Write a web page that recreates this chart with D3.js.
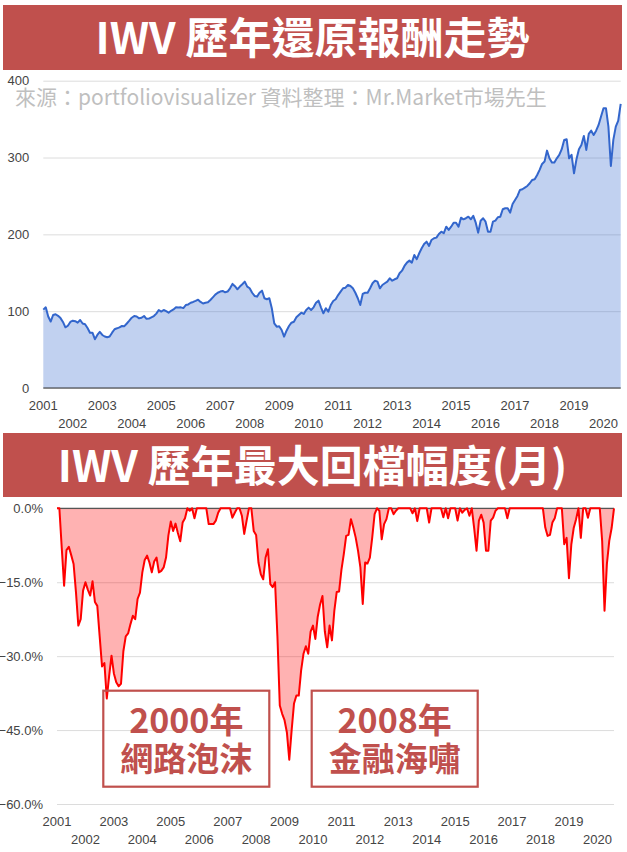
<!DOCTYPE html>
<html><head><meta charset="utf-8">
<script src="https://cdn.jsdelivr.net/npm/d3@7"></script>
<style>body{margin:0;background:#fff}svg{display:block}</style>
</head><body>
<svg id="c" width="627" height="852"></svg>
<script>
// ---- data (monthly, index 0 = start of 2001) ----
const yearLabels = [2001,2002,2003,2004,2005,2006,2007,2008,2009,2010,2011,2012,2013,2014,2015,2016,2017,2018,2019,2020];
const growthTicks = [0,100,200,300,400];
const drawdownTicks = [0,-15,-30,-45,-60];
const growth = [
 102,105,93,86.5,95,96,94,91,86,79,81,86,
 87.6,87,85,88.5,84,83,78,72,72,63.5,69,73,
 69,67,66,67,72,76.5,77.7,79,80.7,80.5,84,87.6,
 91.5,93.7,93,90.7,91.5,93.7,90,90.3,92,93.7,96.8,101.5,
 99.5,101.5,100,98,100.5,102.3,105,104.7,105,104,108,108.8,
 111,112,113.4,115,112,110,111,111.5,114.6,118,121.5,124,
 125.5,126.3,124.6,125.5,129.8,135.5,132.5,128.5,132,135,138.4,132,
 129.8,124,119.8,118.9,124,126.7,116.8,115.5,116.8,103.8,84.2,79.8,
 80.3,75.5,66.8,74.6,80.7,85,86.3,92,95,98,96.4,101.6,
 104.6,101.6,105,111,113.7,105,97.2,103.8,99.4,108,113.3,115.5,
 121,125.4,129.8,130.6,134.1,132.8,129.8,124,116.8,108,122.4,124,
 124,129.8,136.3,139.7,138.4,129.8,134.1,136.3,138.4,142.8,139.7,141.5,
 142.8,149.3,152.7,158.9,163.2,165.8,163.2,173.2,167.6,175.4,181.9,187.5,
 190.5,184.9,192.7,194.9,195.7,200.5,203.5,201.4,210,205.7,210,215.2,
 215.2,210,221.7,219.6,221,223,219.6,224,215.2,202.2,217.8,221,
 216.5,203.5,203.5,216.5,217.8,222.3,223,232.7,234,234,228.3,239.6,
 244.8,250,257.8,258.7,260.8,263,266.5,270.8,271.7,277.3,283.9,291.7,
 294.7,309,299,293.4,293.4,299,303.4,310.8,322.9,323.8,299,303.4,
 279.5,297.8,310.8,316.4,328.1,309.9,330.7,335,329.4,335,342.4,353.3,
 364.2,364.2,340.2,289,322.9,340.2,348,369.8
];
const drawdown = [
 0,0,-8,-15.7,-8.5,-7.8,-9.5,-11.3,-17,-23.8,-22.5,-16.7,
 -15,-16.5,-17.7,-14.8,-19,-19.8,-26,-32.1,-31.4,-38.6,-34,-29.9,
 -33.5,-35.3,-36.1,-35.6,-29,-26,-25.4,-23.5,-21.8,-22.5,-18.4,-17.1,
 -13,-10.5,-9.6,-11,-13,-10.8,-10,-13,-12.7,-12,-10,-5.5,
 -2.7,-4.6,-3.1,-5,-6.7,-2.9,-2,0,-0.5,0,-2,0,
 0,0,0,0,-3.2,-3.2,-3.2,-2.5,-0.9,0,0,0,
 0,0,-1.9,-0.9,0,0,-1.5,-5.2,-2.5,0,0,-4.6,
 -5.4,-11,-13.4,-14.4,-10,-8.3,-15.4,-16,-15,-26,-40,-41.7,
 -43,-45.5,-51,-45,-39.6,-38,-38,-32.9,-29.5,-28,-29.5,-25,
 -23.8,-26.5,-22,-19.5,-17.8,-25,-28.2,-23.8,-26.8,-20.8,-17,-16.9,
 -12.5,-9.3,-5.6,-5.4,-2.2,-3.9,-5.9,-8.6,-12,-19.4,-11,-11.2,
 -10,-5.9,-1.2,0,-0.5,-6.3,-3.2,-2.2,0,0,-1.2,-0.5,
 0,0,0,0,0,0,-1,0,-2.6,0,0,0,
 0,-2.9,0,0,0,0,0,-1.8,0,-2,0,0,
 0,-2.5,0,-0.9,-0.3,0,-1.5,0,-4,-8.6,-2.5,-1.3,
 -2.9,-8.6,-8.6,-2.5,-1.9,-0.5,0,0,0,0,-2,0,
 0,0,0,0,0,0,0,0,0,0,0,0,
 0,0,-3.9,-5.6,-5.4,-2.9,-2,0,0,0,-7.3,-6,
 -14.2,-7.3,-4,-2.2,0,-6,0,0,-1.9,0,0,0,
 0,0,-6.6,-20.8,-11.3,-6.6,-4,0
];
const titles = ["IWV 歷年還原報酬走勢", "IWV 歷年最大回檔幅度(月)"];
const subtitle = "來源：portfoliovisualizer 資料整理：Mr.Market市場先生";
const notes = [["2000年","網路泡沫"],["2008年","金融海嘯"]];
const noteYears = [2002, 2010]; // box anchors (left edge year)

// ---- drawing ----
const svg = d3.select("#c");
const RED = "#c0504d";
const CJK = "'Noto Sans CJK TC','Noto Sans',sans-serif";
const LAT = "'Liberation Sans',Arial,sans-serif";
const n = growth.length;

function titleBar(y0, h, text){
  svg.append("rect").attr("x",3).attr("y",y0).attr("width",619).attr("height",h).attr("fill",RED);
  svg.append("text").attr("x",312.5).attr("y",y0+48.5).attr("text-anchor","middle")
    .attr("font-family",CJK).attr("font-weight",700).attr("font-size",43)
    .attr("fill","#fff").text(text);
}
titleBar(5, 65, titles[0]);
titleBar(433, 64, titles[1]);

function yearAxis(g, x, y1, y2){
  yearLabels.forEach((yr,i)=>{
    g.append("text").attr("x",x(i*12)).attr("y", i%2===0 ? y1 : y2)
      .attr("text-anchor","middle").attr("font-family",LAT).attr("font-size",13)
      .attr("fill","#444").text(yr);
  });
}

// ---- top chart ----
const xT = d3.scaleLinear().domain([0,n-1]).range([43.3,620.7]);
const yT = d3.scaleLinear().domain([0,400]).range([388,80.7]);
const gT = svg.append("g");
gT.append("g").attr("transform","translate(43.3,0)")
  .call(d3.axisLeft(yT).tickValues(growthTicks).tickSize(-(620.7-43.3)).tickFormat(d3.format("d")))
  .call(g=>{g.select(".domain").remove();
    g.selectAll(".tick line").attr("stroke","#dcdcdc");
    g.selectAll(".tick text").attr("x",-14).attr("font-family",LAT).attr("font-size",13).attr("fill","#444");});
gT.append("path").datum(growth)
  .attr("d", d3.area().x((d,i)=>xT(i)).y0(yT(0)).y1(d=>yT(d)))
  .attr("fill","#3366cc").attr("fill-opacity",0.3);
gT.append("line").attr("x1",xT(0)).attr("x2",xT(n-1)).attr("y1",yT(0)).attr("y2",yT(0)).attr("stroke","#333").attr("stroke-width",1.2);
gT.append("path").datum(growth)
  .attr("d", d3.line().x((d,i)=>xT(i)).y(d=>yT(d)))
  .attr("fill","none").attr("stroke","#3366cc").attr("stroke-width",2).attr("stroke-linejoin","round");
yearAxis(gT, xT, 410, 428);
svg.append("text").attr("x",15).attr("y",105).attr("font-family",CJK).attr("font-size",21)
  .attr("fill","#bfbfbf").text(subtitle);

// ---- bottom chart ----
const xB = d3.scaleLinear().domain([0,n-1]).range([57,614]);
const yB = d3.scaleLinear().domain([-60,0]).range([804,508.3]);
const gB = svg.append("g");
gB.append("g").attr("transform","translate(57,0)")
  .call(d3.axisLeft(yB).tickValues(drawdownTicks).tickSize(-(614-57)).tickFormat(d=>d3.format(".1f")(d)+"%"))
  .call(g=>{g.select(".domain").remove();
    g.selectAll(".tick line").attr("stroke","#dcdcdc");
    g.selectAll(".tick text").attr("x",-14).attr("font-family",LAT).attr("font-size",13).attr("fill","#444");});
gB.append("path").datum(drawdown)
  .attr("d", d3.area().x((d,i)=>xB(i)).y0(yB(0)).y1(d=>yB(d)))
  .attr("fill","#ff0000").attr("fill-opacity",0.3);
gB.append("line").attr("x1",xB(0)).attr("x2",xB(n-1)).attr("y1",yB(0)).attr("y2",yB(0)).attr("stroke","#555").attr("stroke-width",1.2);
gB.append("path").datum(drawdown)
  .attr("d", d3.line().x((d,i)=>xB(i)).y(d=>yB(d)))
  .attr("fill","none").attr("stroke","#ff0000").attr("stroke-width",2).attr("stroke-linejoin","round");
yearAxis(gB, xB, 826, 843.5);

// ---- annotation boxes ----
const boxX = [103.3, 311.7];
notes.forEach((t,k)=>{
  const x0 = boxX[k], w = 166, y0 = 690.7, h = 96;
  svg.append("rect").attr("x",x0).attr("y",y0).attr("width",w).attr("height",h)
    .attr("fill","none").attr("stroke",RED).attr("stroke-width",2.2);
  svg.append("text").attr("x",x0+w/2).attr("y",733).attr("text-anchor","middle")
    .attr("font-family",CJK).attr("font-weight",700).attr("font-size",34).attr("fill",RED).text(t[0]);
  svg.append("text").attr("x",x0+w/2).attr("y",771).attr("text-anchor","middle")
    .attr("font-family",CJK).attr("font-weight",700).attr("font-size",33).attr("fill",RED).text(t[1]);
});
</script>
</body></html>
